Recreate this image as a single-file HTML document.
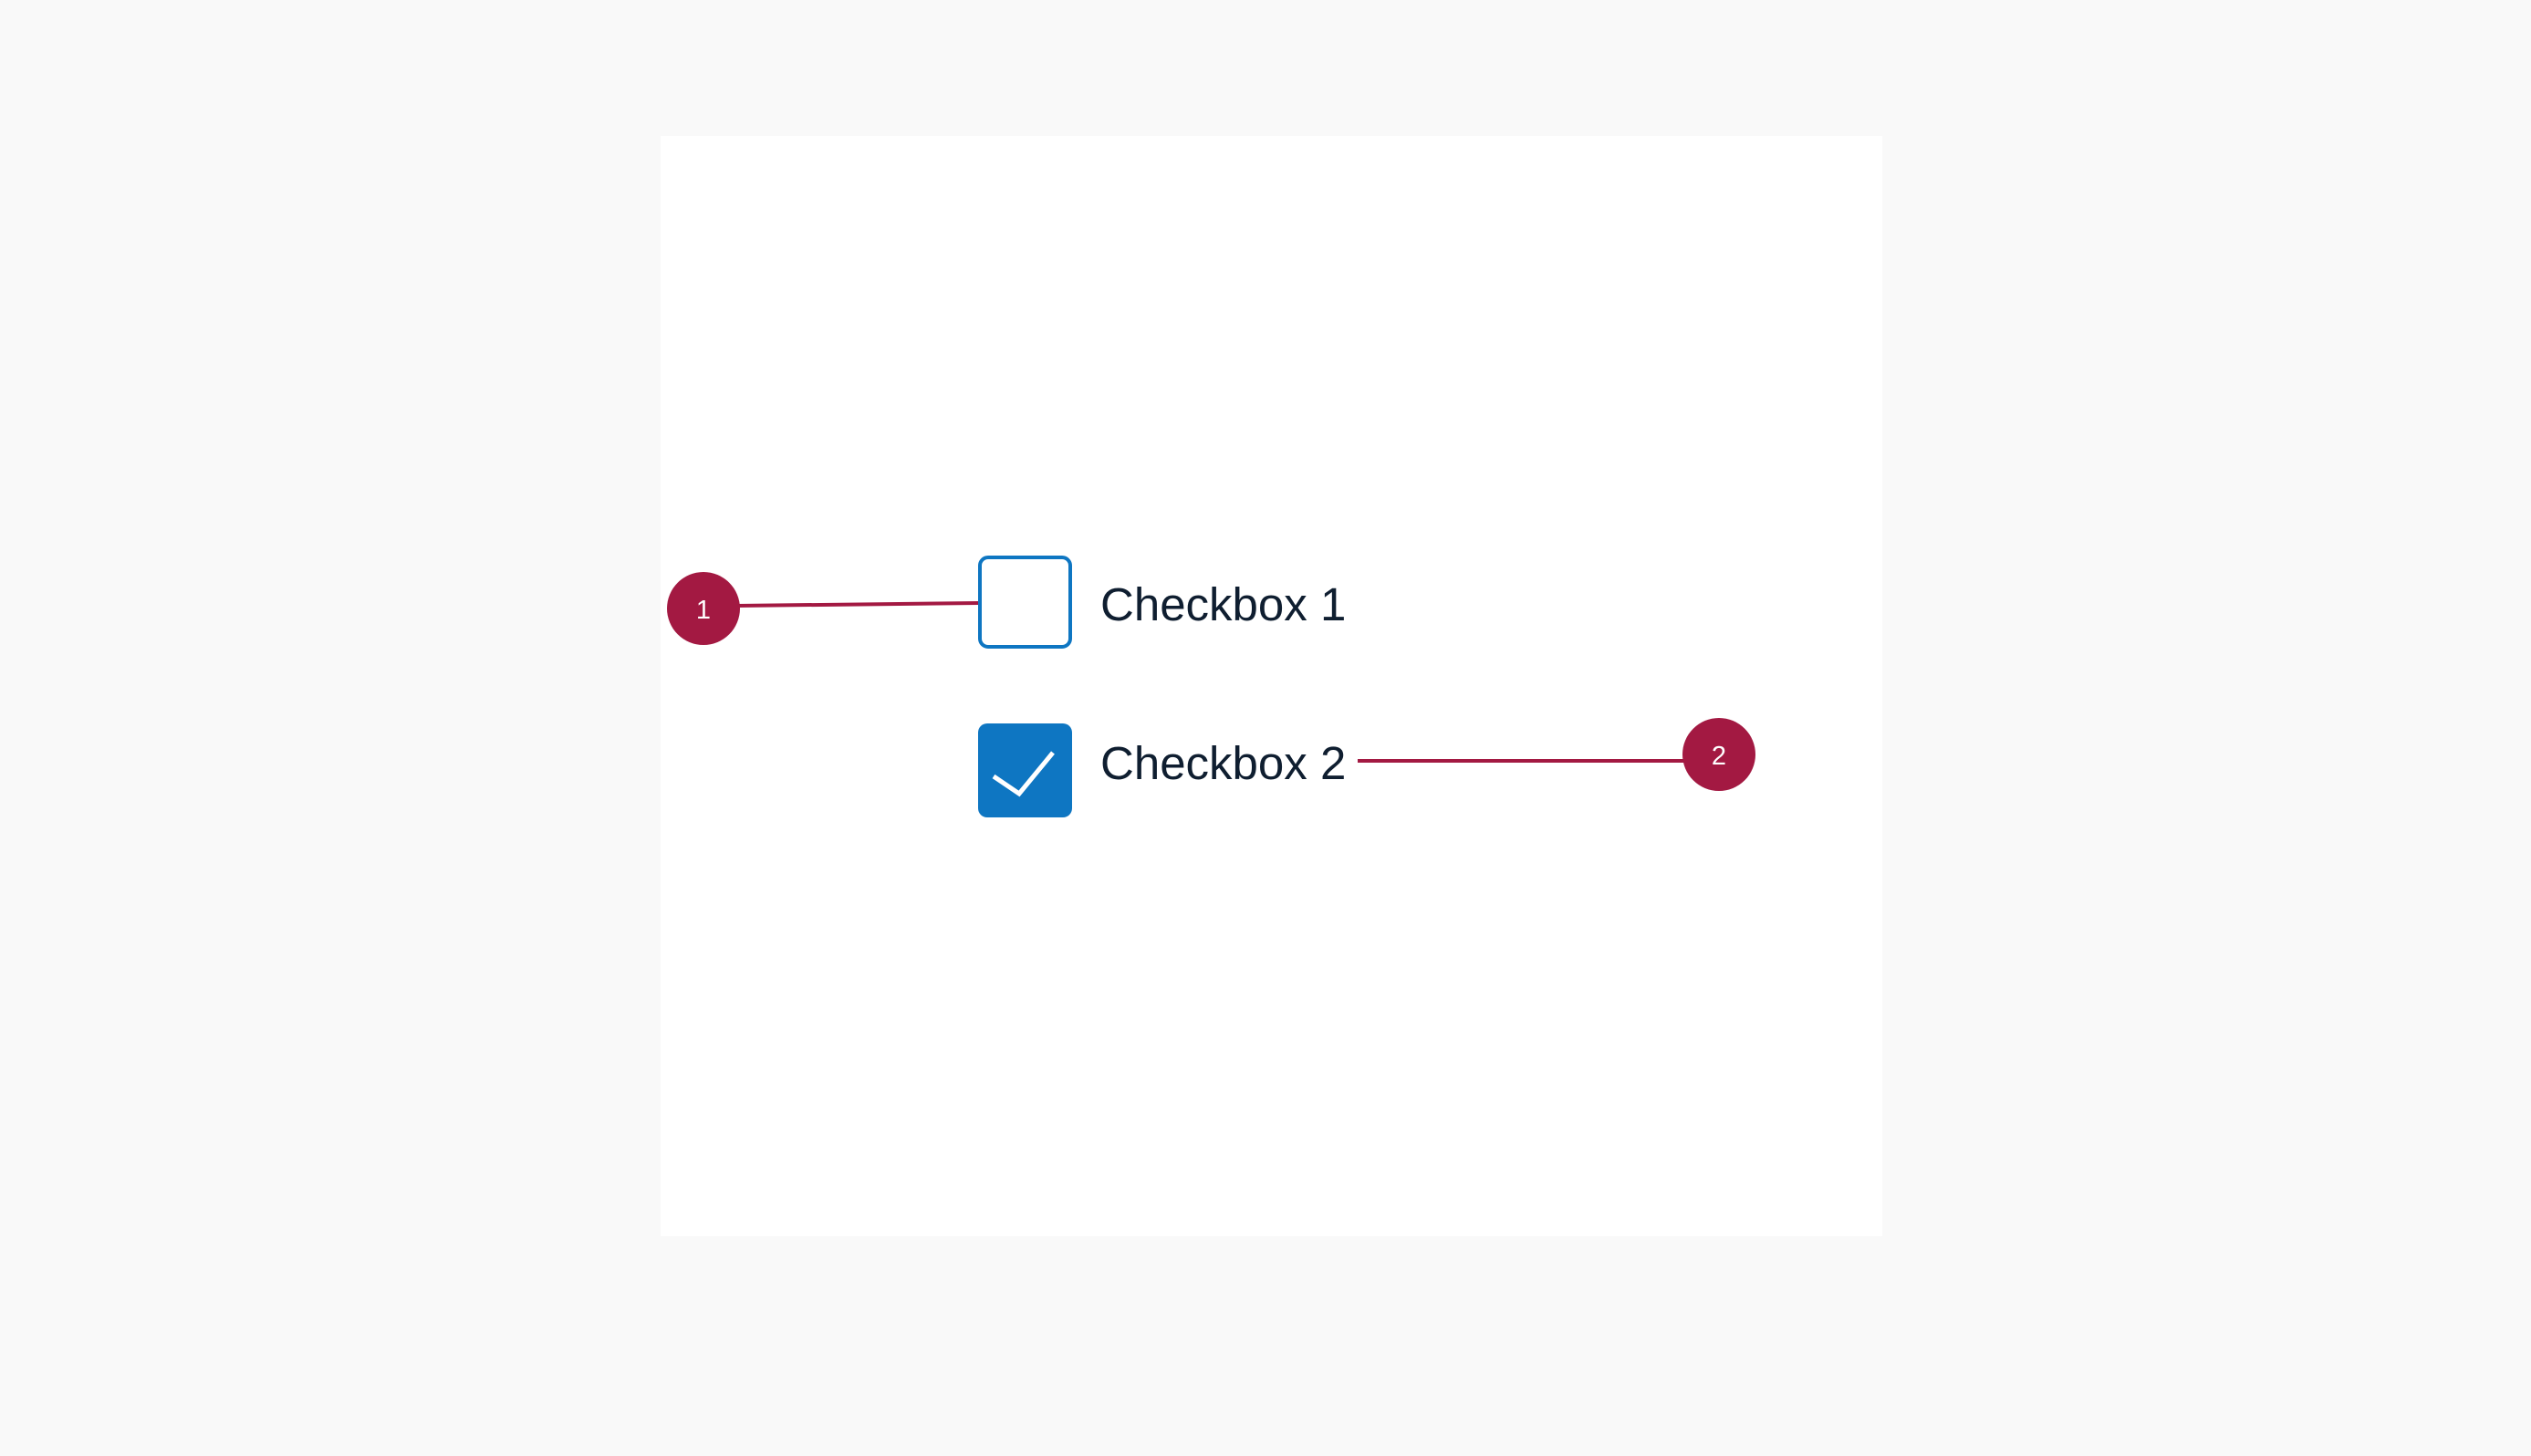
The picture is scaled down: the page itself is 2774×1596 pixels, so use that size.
<!DOCTYPE html>
<html><head><meta charset="utf-8"><style>
html,body{margin:0;padding:0;background:#f9f9f9;}
body{width:2774px;height:1596px;position:relative;overflow:hidden;font-family:"Liberation Sans",sans-serif;}
</style></head><body>
<svg width="2774" height="1596" style="position:absolute;left:0;top:0">
<rect x="0" y="0" width="2774" height="1596" fill="#f9f9f9"/>
<rect x="724" y="149" width="1339" height="1206" fill="#ffffff"/>
<line x1="806" y1="664" x2="1073" y2="661" stroke="#a31942" stroke-width="4"/>
<circle cx="771" cy="667" r="40" fill="#a31942"/>
<text x="771" y="678" font-size="29" fill="#fff" text-anchor="middle" font-family="Liberation Sans, sans-serif">1</text>
<rect x="1074" y="611" width="99" height="98" rx="9" fill="#fff" stroke="#0e76c2" stroke-width="4"/>
<rect x="1072" y="793" width="103" height="103" rx="10" fill="#0e76c2"/>
<polyline points="1089,851 1117,870 1154,825" fill="none" stroke="#fff" stroke-width="5"/>
<text x="1206" y="680" font-size="51" fill="#0f1e30" font-family="Liberation Sans, sans-serif">Checkbox 1</text>
<text x="1206" y="854" font-size="51" fill="#0f1e30" font-family="Liberation Sans, sans-serif">Checkbox 2</text>
<line x1="1488" y1="834" x2="1846" y2="834" stroke="#a31942" stroke-width="4"/>
<circle cx="1884" cy="827" r="40" fill="#a31942"/>
<text x="1884" y="838" font-size="29" fill="#fff" text-anchor="middle" font-family="Liberation Sans, sans-serif">2</text>
</svg>
</body></html>
